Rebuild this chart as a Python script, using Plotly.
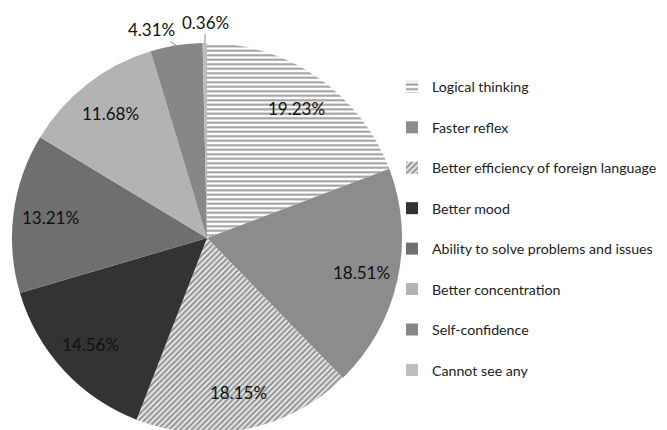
import math
import plotly.graph_objects as go

categories = [
    "Logical thinking",
    "Faster reflex",
    "Better efficiency of foreign language",
    "Better mood",
    "Ability to solve problems and issues",
    "Better concentration",
    "Self-confidence",
    "Cannot see any",
]
shares = [19.23, 18.51, 18.15, 14.56, 13.21, 11.68, 4.31, 0.36]

colors = ["#ffffff", "#8c8c8c", "#dcdcdc", "#333333", "#6f6f6f", "#b3b3b3", "#878787", "#bdbdbd"]
pat_shapes = ["-", "", "/", "", "", "", "", ""]
pat_fg = ["#9c9c9c", "#000000", "#939393", "#000000", "#000000", "#000000", "#000000", "#000000"]
pat_bg = ["#ffffff", "#8c8c8c", "#e8e8e8", "#333333", "#6f6f6f", "#b3b3b3", "#878787", "#bdbdbd"]
pat_size = [4.5, 8, 4, 8, 8, 8, 8, 8]
pat_sol = [0.45, 0.3, 0.5, 0.3, 0.3, 0.3, 0.3, 0.3]

FONT = "Lato"
W, H = 667, 430
OFF = 8  # the page body margin shifts the figure by this many px

# desired pie geometry in window pixels
PCX, PCY, PR = 207, 238, 195
cxf, cyf = PCX - OFF, PCY - OFF
DOM_X = [(cxf - PR) / W, (cxf + PR) / W]
DOM_Y = [1 - (cyf + PR) / H, 1 - (cyf - PR) / H]

legend_labels = ['<span style="font-size:14.2px">' + c + "</span><br> " for c in categories]

fig = go.Figure(
    go.Pie(
        labels=legend_labels,
        values=shares,
        sort=False,
        direction="clockwise",
        rotation=0,
        marker=dict(
            colors=colors,
            line=dict(width=0),
            pattern=dict(
                shape=pat_shapes,
                fgcolor=pat_fg,
                bgcolor=pat_bg,
                size=pat_size,
                solidity=pat_sol,
                fillmode="replace",
            ),
        ),
        textinfo="none",
        domain=dict(x=DOM_X, y=DOM_Y),
        hoverinfo="label+percent",
    )
)

# pie geometry in figure pixels (derived from the domain)
dw = (DOM_X[1] - DOM_X[0]) * W
dh = (DOM_Y[1] - DOM_Y[0]) * H
R = min(dw, dh) / 2
cx = (DOM_X[0] + DOM_X[1]) / 2 * W
cy = (1 - (DOM_Y[0] + DOM_Y[1]) / 2) * H

total = sum(shares)
cum = 0.0
annotations = []
for i, v in enumerate(shares):
    mid = (cum + v / 2) / total * 2 * math.pi
    cum += v
    label = f"{v:.2f}%"
    if v >= 10:
        rr = 0.81 * R
        px = cx + rr * math.sin(mid)
        py = cy - rr * math.cos(mid)
        annotations.append(dict(
            x=px / W, y=1 - py / H, xref="paper", yref="paper",
            xanchor="center", yanchor="middle",
            text=label, showarrow=False,
            font=dict(family=FONT, size=17, color="#111111"),
        ))
    else:
        px = cx + R * math.sin(mid)
        py = cy - R * math.cos(mid)
        ax = -25 if v > 1 else 1
        ay = -16 if v > 1 else -21
        annotations.append(dict(
            x=px / W, y=1 - py / H, xref="paper", yref="paper",
            text=label, showarrow=True, arrowhead=0, arrowwidth=1,
            arrowcolor="#8c8c8c", ax=ax, ay=ay, standoff=0,
            font=dict(family=FONT, size=17, color="#111111"),
        ))

fig.update_layout(
    width=W,
    height=H,
    margin=dict(l=0, r=0, t=0, b=0),
    paper_bgcolor="white",
    plot_bgcolor="white",
    font=dict(family=FONT, size=13, color="#222222"),
    showlegend=True,
    legend=dict(
        x=(392 - OFF) / W,
        y=1 - (71 - OFF) / H,
        xanchor="left",
        yanchor="top",
        valign="top",
        font=dict(family=FONT, size=14.4, color="#222222"),
        bgcolor="rgba(0,0,0,0)",
    ),
    annotations=annotations,
)

fig.write_html("out.html")
